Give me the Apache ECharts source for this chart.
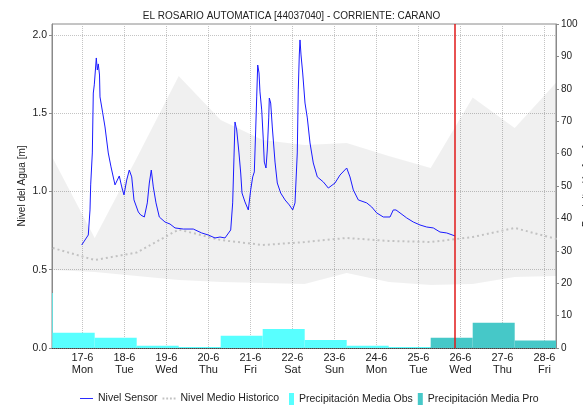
<!DOCTYPE html>
<html>
<head>
<meta charset="utf-8">
<script src="https://cdn.jsdelivr.net/npm/echarts@6/dist/echarts.min.js"></script>
<style>
  html, body { margin: 0; padding: 0; background: #ffffff; }
  #chart { width: 583px; height: 405px; }
</style>
</head>
<body>
<div id="chart"></div>
<script>
// Day labels (June 2024)
const dayTicks = [17, 18, 19, 20, 21, 22, 23, 24, 25, 26, 27, 28];
const dayNames = ['Mon', 'Tue', 'Wed', 'Thu', 'Fri', 'Sat', 'Sun', 'Mon', 'Tue', 'Wed', 'Thu', 'Fri'];

// Water level from the sensor: day of June (fractional) and level in metres
const sensorDays = [
  16.982, 17.139, 17.180, 17.196, 17.235, 17.258, 17.282, 17.330, 17.354, 17.377,
  17.406, 17.418, 17.482, 17.537, 17.615, 17.680, 17.775, 17.815, 17.877, 17.935,
  17.989, 18.054, 18.115, 18.173, 18.227, 18.330, 18.387, 18.473, 18.544, 18.592,
  18.639, 18.687, 18.751, 18.830, 18.965, 19.085, 19.204, 19.401, 19.639, 19.839,
  19.996, 20.156, 20.275, 20.394, 20.530, 20.577, 20.608, 20.632, 20.673, 20.727,
  20.768, 20.799, 20.870, 20.949, 21.006, 21.054, 21.092, 21.125, 21.149, 21.173,
  21.204, 21.227, 21.268, 21.306, 21.330, 21.370, 21.401, 21.435, 21.449, 21.482,
  21.520, 21.585, 21.639, 21.720, 21.823, 21.925, 22.006, 22.061, 22.115, 22.139,
  22.163, 22.180, 22.204, 22.244, 22.299, 22.354, 22.418, 22.496, 22.592, 22.735,
  22.854, 23.013, 23.132, 23.292, 23.370, 23.449, 23.568, 23.768, 23.887, 24.006,
  24.163, 24.323, 24.401, 24.465, 24.561, 24.720, 24.877, 25.037, 25.196, 25.354,
  25.513, 25.673, 25.870
];
const sensorLevel = [
  0.658, 0.722, 0.882, 1.042, 1.246, 1.629, 1.681, 1.853, 1.776, 1.815,
  1.744, 1.604, 1.502, 1.412, 1.246, 1.157, 1.042, 1.054, 1.099, 1.029,
  0.978, 1.073, 1.137, 1.093, 0.946, 0.869, 0.850, 0.837, 0.927, 1.054,
  1.137, 1.029, 0.927, 0.837, 0.805, 0.792, 0.767, 0.760, 0.760, 0.735,
  0.722, 0.703, 0.709, 0.703, 0.754, 0.927, 1.220, 1.444, 1.393, 1.246,
  1.118, 0.990, 0.933, 0.882, 1.010, 1.093, 1.125, 1.393, 1.604, 1.808,
  1.757, 1.636, 1.521, 1.329, 1.188, 1.150, 1.265, 1.470, 1.597, 1.565,
  1.412, 1.188, 1.054, 0.990, 0.946, 0.914, 0.882, 0.927, 1.246, 1.649,
  1.872, 1.968, 1.872, 1.757, 1.565, 1.470, 1.310, 1.182, 1.093, 1.061,
  1.022, 1.054, 1.105, 1.150, 1.093, 1.010, 0.946, 0.927, 0.901, 0.863,
  0.837, 0.837, 0.882, 0.882, 0.863, 0.831, 0.805, 0.786, 0.773, 0.767,
  0.741, 0.735, 0.716
];

// Historic level: daily range (upper / lower) and mean, at 07:00 of each day
const bandDays  = [16.2917, 17.2917, 18.2917, 19.2917, 20.2917, 21.2917, 22.2917,
                   23.2917, 24.2917, 25.2917, 26.2917, 27.2917, 28.2917];
const bandUpper = [1.214, 0.703, 1.214, 1.738, 1.457, 1.329, 1.297, 1.310, 1.227, 1.150, 1.600, 1.406, 1.700];
const bandLower = [0.498, 0.486, 0.460, 0.435, 0.422, 0.415, 0.409, 0.479, 0.422, 0.403, 0.409, 0.454, 0.460];
const bandMean  = [0.639, 0.562, 0.610, 0.757, 0.690, 0.658, 0.677, 0.703, 0.684, 0.677, 0.709, 0.767, 0.696];

// Daily mean precipitation (mm), each period starts at 07:00
const obsStart = [15.2917, 16.2917, 17.2917, 18.2917, 19.2917, 20.2917, 21.2917, 22.2917, 23.2917, 24.2917];
const obsRain  = [17, 4.7, 3.2, 0.7, 0.3, 3.8, 5.9, 2.5, 0.7, 0.3];
const proStart = [25.2917, 26.2917, 27.2917];
const proRain  = [3.2, 7.8, 2.3];

// Current time marker
const nowDay = 25.870;

const FONT = 'Liberation Sans, Arial, sans-serif';

// Legend glyphs: a solid stroke and a dotted stroke
const ICON_SOLID = 'path://M0,0H14V1H0Z';
const ICON_DOTS = 'path://M0,0H2V2H0Z M4,0H6V2H4Z M8,0H10V2H8Z M12,0H14V2H12Z';

function rainBar(params, api) {
  const start = api.value(0);
  const val = api.value(1);
  const p0 = api.coord([start, val]);
  const p1 = api.coord([start + 1, 0]);
  const cs = params.coordSys;
  const shape = echarts.graphic.clipRectByRect(
    { x: p0[0], y: p0[1], width: p1[0] - p0[0], height: p1[1] - p0[1] },
    { x: cs.x, y: cs.y, width: cs.width, height: cs.height }
  );
  return shape && { type: 'rect', shape: shape, style: { fill: api.visual('color') } };
}

function historicBand(params, api) {
  const pts = [];
  for (let i = 0; i < bandDays.length; i++) pts.push(api.coord([bandDays[i], bandUpper[i]]));
  for (let i = bandDays.length - 1; i >= 0; i--) pts.push(api.coord([bandDays[i], bandLower[i]]));
  return { type: 'polygon', shape: { points: pts }, style: { fill: 'rgba(0,0,0,0.058)' } };
}

const chart = echarts.init(document.getElementById('chart'), null, { renderer: 'canvas' });

chart.setOption({
  animation: false,
  textStyle: { fontFamily: FONT },
  title: {
    text: 'EL ROSARIO AUTOMATICA [44037040] - CORRIENTE: CARANO',
    left: 'center', top: 6,
    textStyle: { fontSize: 10, fontWeight: 'normal', color: '#222', fontFamily: FONT }
  },
  grid: {
    left: 52, right: 27, top: 24, bottom: 57,
    outerBoundsMode: 'none', containLabel: false,
    show: true, borderColor: '#8a8a8a', borderWidth: 1, backgroundColor: 'transparent'
  },
  legend: [
    {
      data: [{ name: 'Nivel Sensor', icon: ICON_SOLID }, { name: 'Nivel Medio Historico', icon: ICON_DOTS }],
      left: 75, top: 388, itemWidth: 13, itemHeight: 2, itemGap: 5,
      textStyle: { fontSize: 10.5, color: '#222', fontFamily: FONT }
    },
    {
      data: [{ name: 'Precipitación Media Obs', icon: 'rect' }, { name: 'Precipitación Media Pro', icon: 'rect' }],
      left: 284, top: 388, itemWidth: 5, itemHeight: 12, itemGap: 5,
      textStyle: { fontSize: 10.5, color: '#222', fontFamily: FONT }
    }
  ],
  xAxis: {
    type: 'value', min: 16.275, max: 28.275,
    axisLine: { show: true, lineStyle: { color: '#444', type: 'dotted', width: 1 } },
    axisTick: { show: false, customValues: dayTicks },
    axisLabel: {
      customValues: dayTicks,
      margin: 4, fontSize: 11, lineHeight: 12, color: '#222', fontFamily: FONT,
      formatter: function (v) {
        const d = Math.round(v);
        const i = dayTicks.indexOf(d);
        return d + '-6\n' + (i >= 0 ? dayNames[i] : '');
      }
    },
    splitLine: { show: true, lineStyle: { color: '#c4c4c4', type: 'dotted', width: 1 } }
  },
  yAxis: [
    {
      type: 'value', min: 0, max: 2.07, interval: 0.5,
      name: 'Nivel del Agua [m]', nameLocation: 'middle', nameGap: 25, nameMoveOverlap: false,
      nameTextStyle: { fontSize: 10, color: '#222', fontFamily: FONT },
      axisLine: { show: true, lineStyle: { color: '#8a8a8a' } },
      axisTick: { show: true, length: 3, lineStyle: { color: '#8a8a8a' } },
      axisLabel: { showMaxLabel: false, fontSize: 10.5, color: '#222', margin: 5, fontFamily: FONT,
                   formatter: v => v.toFixed(1) },
      splitLine: { show: true, lineStyle: { color: '#c4c4c4', type: 'dotted', width: 1 } }
    },
    {
      type: 'value', min: 0, max: 100, interval: 10, position: 'right',
      name: 'Precipitación [mm]', nameLocation: 'middle', nameGap: 26, nameMoveOverlap: false,
      nameTextStyle: { fontSize: 10, color: '#222', fontFamily: FONT },
      axisLine: { show: true, lineStyle: { color: '#8a8a8a' } },
      axisTick: { show: true, length: 3, lineStyle: { color: '#8a8a8a' } },
      axisLabel: { fontSize: 10, color: '#222', margin: 5, fontFamily: FONT },
      splitLine: { show: false }
    }
  ],
  series: [
    {
      name: 'Rango Historico', type: 'custom', renderItem: historicBand,
      data: [[bandDays[0], bandUpper[0]]], clip: true, silent: true, z: 1
    },
    {
      name: 'Precipitación Media Obs', type: 'custom', renderItem: rainBar, yAxisIndex: 1,
      itemStyle: { color: '#58ffff' }, color: '#58ffff',
      encode: { x: 0, y: 1 },
      data: obsStart.map((d, i) => [d, obsRain[i]]), z: 2
    },
    {
      name: 'Precipitación Media Pro', type: 'custom', renderItem: rainBar, yAxisIndex: 1,
      itemStyle: { color: '#46c8c8' }, color: '#46c8c8',
      encode: { x: 0, y: 1 },
      data: proStart.map((d, i) => [d, proRain[i]]), z: 2
    },
    {
      name: 'Nivel Medio Historico', type: 'line', showSymbol: false, symbol: 'none',
      color: '#c2c2c2',
      lineStyle: { color: '#c2c2c2', width: 2, type: [2, 3] },
      data: bandDays.map((d, i) => [d, bandMean[i]]), z: 3
    },
    {
      name: 'Nivel Sensor', type: 'line', showSymbol: false, symbol: 'none',
      color: '#1a1aff',
      lineStyle: { color: '#1a1aff', width: 1 },
      data: sensorDays.map((d, i) => [d, sensorLevel[i]]), z: 4,
      markLine: {
        silent: true, symbol: 'none', label: { show: false },
        lineStyle: { color: '#e01818', type: 'solid', width: 1.5 },
        data: [{ xAxis: nowDay }]
      }
    }
  ]
});
</script>
</body>
</html>
